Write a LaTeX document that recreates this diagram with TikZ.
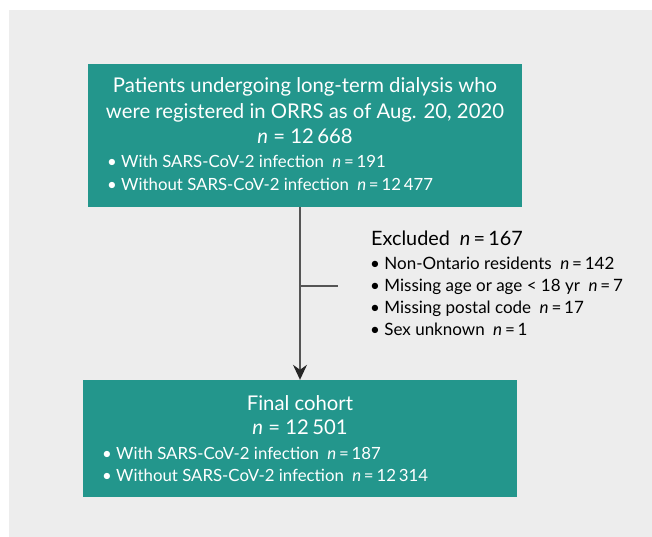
\documentclass[tikz,border=0pt]{standalone}
\usepackage{fontspec}
\setmainfont{Lato}
\usetikzlibrary{arrows.meta}

\definecolor{cohortteal}{RGB}{35,150,140}
\definecolor{panelgrey}{RGB}{237,237,237}
\definecolor{flowline}{RGB}{85,85,85}

\tikzset{
    box/.style={fill=cohortteal, inner sep=0pt},
    heading/.style={text=white, inner sep=0pt, anchor=base, font=\fontsize{20.3}{24}\selectfont},
    item/.style={text=white, inner sep=0pt, anchor=base west, font=\fontsize{16.8}{20}\selectfont},
    exhead/.style={inner sep=0pt, anchor=base west, font=\fontsize{19.8}{24}\selectfont},
    exitem/.style={inner sep=0pt, anchor=base west, font=\fontsize{17}{20}\selectfont},
    flow/.style={draw=flowline, line width=1.3pt},
}

\begin{document}
\begin{tikzpicture}[x=1pt, y=-1pt]
        \useasboundingbox (0,0) rectangle (652,537);
        \fill[panelgrey] (9,10) rectangle (652,537);

        % boxes
        \node[box, minimum width=434pt, minimum height=143pt] (top) at (305,135.5) {};
        \node[box, minimum width=434pt, minimum height=117pt] (final) at (300,438.5) {};

        % top box text
        \node[heading] (t1) at (305,93) {Patients undergoing long-term dialysis who};
        \node[heading] (t2) at (305,118.3) {were registered in ORRS as of Aug. 20, 2020};
        \node[heading] (t3) at (305,144) {\textit{n} = 12\,668};
        \node[item] (t4) at (107,167.3) {\textbullet\ With SARS-CoV-2 infection\enspace\textit{n}\,=\,191};
        \node[item] (t5) at (107,190) {\textbullet\ Without SARS-CoV-2 infection\enspace\textit{n}\,=\,12\,477};

        % final box text
        \node[heading] (f1) at (300,410) {Final cohort};
        \node[heading] (f2) at (300,434.3) {\textit{n} = 12\,501};
        \node[item] (f3) at (102,459.3) {\textbullet\ With SARS-CoV-2 infection\enspace\textit{n}\,=\,187};
        \node[item] (f4) at (102,481) {\textbullet\ Without SARS-CoV-2 infection\enspace\textit{n}\,=\,12\,314};

        % excluded
        \node[exhead] (e1) at (371,245.7) {Excluded\enspace\textit{n}\,=\,167};
        \node[exitem] (e2) at (370,269.3) {\textbullet\ Non-Ontario residents\enspace\textit{n}\,=\,142};
        \node[exitem] (e3) at (370,291.7) {\textbullet\ Missing age or age < 18 yr\enspace\textit{n}\,=\,7};
        \node[exitem] (e4) at (370,313.3) {\textbullet\ Missing postal code\enspace\textit{n}\,=\,17};
        \node[exitem] (e5) at (370,335) {\textbullet\ Sex unknown\enspace\textit{n}\,=\,1};

        % connectors
        \coordinate (axis) at (300,0);
        \coordinate (branch) at (300,286);
        \coordinate (branchend) at (338,286);
        \draw[flow, -{Stealth[length=15pt, width=14pt, inset=5pt, color=black!85]}] (top.south -| axis) -- (final.north -| axis);
        \draw[flow] (branch) -- (branchend);
    \end{tikzpicture}
\end{document}
